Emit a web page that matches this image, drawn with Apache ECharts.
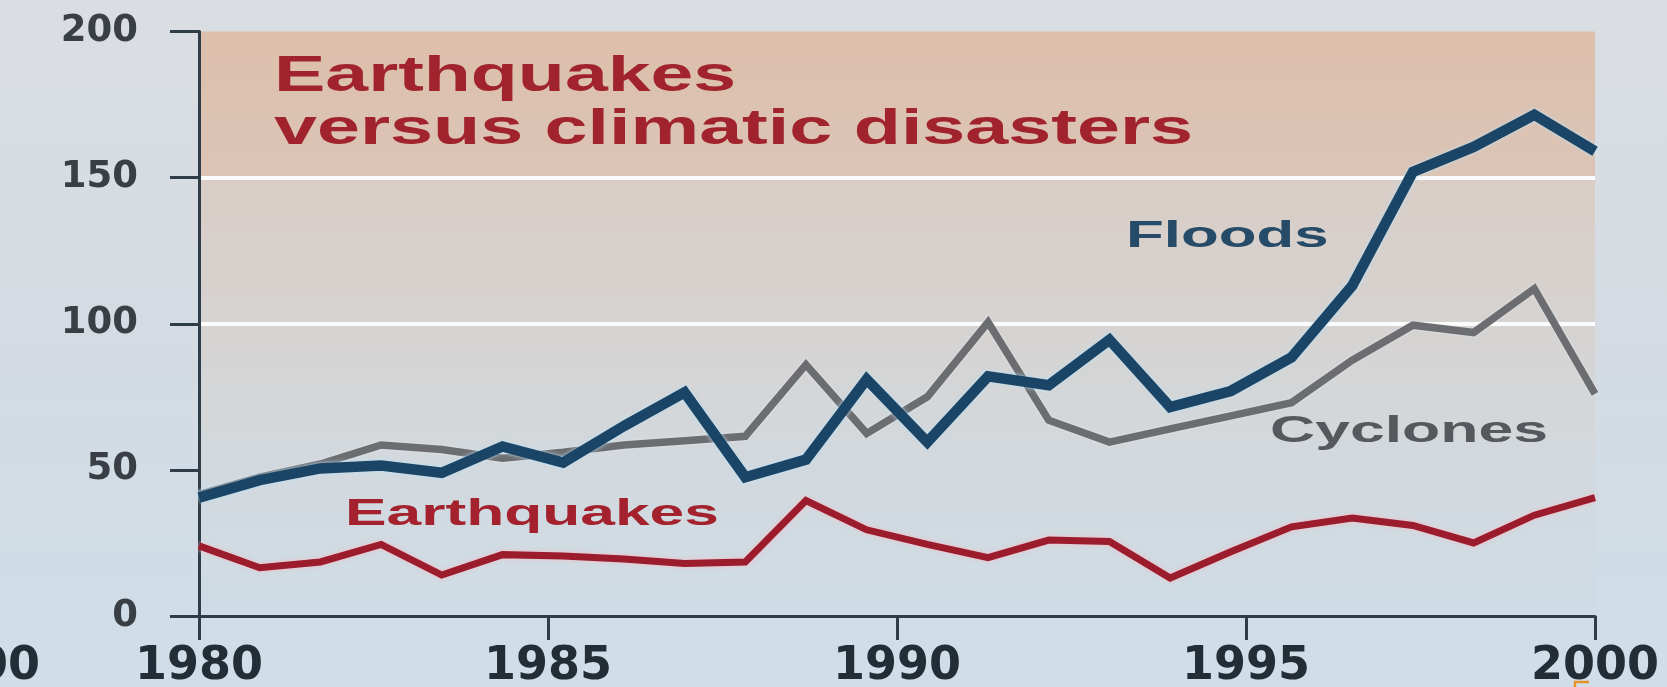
<!DOCTYPE html>
<html>
<head>
<meta charset="utf-8">
<script src="https://cdn.jsdelivr.net/npm/echarts@6/dist/echarts.min.js"></script>
<style>
html,body{margin:0;padding:0;background:#d5dee5;}
#chart{width:1667px;height:687px;}
</style>
</head>
<body>
<div id="chart"></div>
<script>
// evenly spaced sample points along the 1980-2000 span (24 points drawn)
const pointLabels = ['1','2','3','4','5','6','7','8','9','10','11','12','13','14','15','16','17','18','19','20','21','22','23','24'];
const floods      = [40.5, 46.5, 50.5, 51.5, 49, 58, 52.5, 65, 76.5, 47.5, 53.5, 81, 59.5, 82, 79, 94.5, 71.5, 77, 88.5, 113, 152, 160.5, 171.5, 159];
const cyclones    = [41.5, 47.5, 52, 58.5, 57, 54, 56, 58.5, 60, 61.5, 86, 62.5, 75, 100.5, 67, 59.5, 64, 68.5, 73, 87.5, 99.5, 97, 112, 76];
const earthquakes = [24, 16.5, 18.5, 24.5, 14, 21, 20.5, 19.5, 18, 18.5, 39.5, 29.5, 24.5, 20, 26, 25.5, 13, 22, 30.5, 33.5, 31, 25, 34.5, 40.5];
const yearTicks   = [1980, 1985, 1990, 1995, 2000];
const valueTicks  = [0, 50, 100, 150, 200];
const titleLines  = ['Earthquakes', 'versus climatic disasters'];
const seriesNames = ['Floods', 'Cyclones', 'Earthquakes'];
const neighbourLabel = '2000';

const axisColor = '#2f3d48';
const chart = echarts.init(document.getElementById('chart'), null, {renderer: 'canvas'});

function annot(text, x, y, size, color, sx) {
  return {
    type: 'text', x: x, y: y, scaleX: sx, scaleY: 1, z: 100, silent: true,
    style: {
      text: text, x: 0, y: 0, fill: color,
      font: 'bold ' + size + 'px "Liberation Sans", Arial, sans-serif',
      align: 'left', textAlign: 'left', verticalAlign: 'middle', textVerticalAlign: 'middle'
    }
  };
}

const option = {
  animation: false,
  backgroundColor: {
    type: 'linear', x: 0, y: 0, x2: 0, y2: 1,
    colorStops: [
      {offset: 0, color: '#dadee3'},
      {offset: 0.5, color: '#d4dbe2'},
      {offset: 1, color: '#cfdee8'}
    ]
  },
  grid: {
    left: 199, right: 72, top: 31.5, bottom: 71,
    containLabel: false, outerBoundsMode: 'none',
    show: true, borderWidth: 0,
    backgroundColor: {
      type: 'linear', x: 0, y: 0, x2: 0, y2: 1,
      colorStops: [
        {offset: 0, color: '#ddbfab'},
        {offset: 0.248, color: '#dbc4b6'},
        {offset: 0.252, color: '#d9cdc6'},
        {offset: 0.5, color: '#d6d3d1'},
        {offset: 0.75, color: '#d2d9de'},
        {offset: 1, color: '#cfdce5'}
      ]
    }
  },
  xAxis: [
    {
      type: 'value',
      min: yearTicks[0], max: yearTicks[yearTicks.length - 1],
      interval: yearTicks[1] - yearTicks[0],
      position: 'bottom',
      axisLine: {show: true, onZero: false, lineStyle: {color: axisColor, width: 3}},
      axisTick: {show: true, length: 24, lineStyle: {color: axisColor, width: 3}},
      axisLabel: {
        show: true, margin: 51, verticalAlign: 'middle',
        formatter: function (v) { return String(v); },
        fontFamily: '"DejaVu Sans", sans-serif', fontWeight: 'bold', fontSize: 46, color: '#222d36',
        showMinLabel: true, showMaxLabel: true
      },
      splitLine: {show: false}
    },
    {
      type: 'category', data: pointLabels, boundaryGap: false, show: false, position: 'bottom'
    }
  ],
  yAxis: {
    type: 'value',
    min: valueTicks[0], max: valueTicks[valueTicks.length - 1],
    interval: valueTicks[1] - valueTicks[0],
    axisLine: {show: true, onZero: false, lineStyle: {color: axisColor, width: 3}},
    axisTick: {show: true, length: 29, lineStyle: {color: axisColor, width: 3}},
    axisLabel: {
      show: true, margin: 61, align: 'right',
      formatter: function (v) { return String(v); },
      fontFamily: '"DejaVu Sans", sans-serif', fontWeight: 'bold', fontSize: 37, color: '#3a3f45'
    },
    splitLine: {
      show: true, showMinLine: false, showMaxLine: false,
      lineStyle: {color: ['rgba(255,255,255,0)', '#fbfcfd', '#fbfcfd', '#fbfcfd', 'rgba(255,255,255,0)'], width: 4}
    }
  },
  series: [
    {
      name: seriesNames[2], type: 'line', xAxisIndex: 1, data: earthquakes,
      showSymbol: false, symbol: 'none', clip: false, silent: true,
      lineStyle: {color: '#9b1c2c', width: 7, join: 'miter', miterLimit: 3,
        shadowColor: 'rgba(250,185,195,0.9)', shadowBlur: 4}
    },
    {
      name: seriesNames[1], type: 'line', xAxisIndex: 1, data: cyclones,
      showSymbol: false, symbol: 'none', clip: false, silent: true,
      lineStyle: {color: '#6c6d71', width: 7.5, join: 'miter', miterLimit: 3,
        shadowColor: 'rgba(235,238,242,0.7)', shadowBlur: 3}
    },
    {
      name: seriesNames[0], type: 'line', xAxisIndex: 1, data: floods,
      showSymbol: false, symbol: 'none', clip: false, silent: true,
      lineStyle: {color: '#1b4566', width: 10.5, join: 'miter', miterLimit: 3,
        shadowColor: 'rgba(190,226,245,0.9)', shadowBlur: 4}
    }
  ],
  graphic: [
    annot(titleLines[0], 274, 77, 50, '#a1232e', 1.54),
    annot(titleLines[1], 274, 130, 50, '#a1232e', 1.545),
    annot(seriesNames[0], 1126, 237, 37, '#264b69', 1.67),
    annot(seriesNames[1], 1270, 431.5, 37, '#55585c', 1.69),
    annot(seriesNames[2], 345, 515, 36, '#a3222e', 1.73),
    {
      type: 'text', x: 40, y: 667, silent: true,
      style: {
        text: neighbourLabel, x: 0, y: 0, fill: '#222d36',
        font: 'bold 46px "DejaVu Sans", sans-serif',
        align: 'right', textAlign: 'right', verticalAlign: 'middle', textVerticalAlign: 'middle'
      }
    },
    {
      type: 'polyline', silent: true,
      shape: {points: [[1575, 687], [1575, 682], [1589, 682]]},
      style: {stroke: '#e8922a', lineWidth: 2.5, fill: null}
    }
  ]
};
chart.setOption(option);
</script>
</body>
</html>
